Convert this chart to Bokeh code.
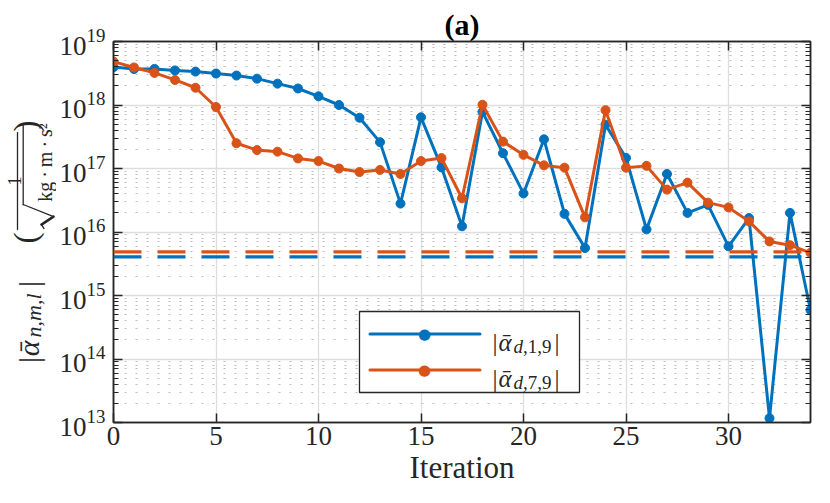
import math
from bokeh.plotting import figure
from bokeh.layouts import row
from bokeh.embed import file_html
from bokeh.resources import INLINE
from bokeh.models import (Label, Arrow, BoxAnnotation, Span, FixedTicker,
                          LinearAxis, LogAxis, Range1d)

# ---------------- data ----------------
iterations = list(range(35))
alpha_d_1_9 = [3.95e18, 3.69e18, 3.7e18, 3.5e18, 3.36e18, 3.13e18, 2.91e18, 2.6e18,
               2.17e18, 1.82e18, 1.37e18, 1.0e18, 6.3e17, 2.6e17, 2.8e16, 6.4e17,
               1.04e17, 1.23e16, 7.8e17, 1.74e17, 4.05e16, 2.88e17, 1.93e16, 5.6e15,
               4.9e17, 1.47e17, 1.1e16, 8.2e16, 2.0e16, 2.67e16, 5.95e15, 1.66e16,
               1.17e13, 2.0e16, 5.9e14]
alpha_d_7_9 = [4.83e18, 3.9e18, 3.2e18, 2.48e18, 1.87e18, 9.3e17, 2.5e17, 1.95e17,
               1.84e17, 1.44e17, 1.31e17, 1.0e17, 8.8e16, 9.5e16, 8.2e16, 1.31e17,
               1.46e17, 3.4e16, 1.01e18, 2.65e17, 1.64e17, 1.12e17, 1.03e17, 1.7e16,
               8.3e17, 1.03e17, 1.1e17, 4.65e16, 6.0e16, 2.9e16, 2.44e16, 1.47e16,
               7.1e15, 6.2e15, 4.7e15]
threshold_1_9 = 4.05e15
threshold_7_9 = 4.88e15
x_ticks = [0, 5, 10, 15, 20, 25, 30]
y_exponents = [13, 14, 15, 16, 17, 18, 19]

BLUE = "#0072BD"
ORANGE = "#D95319"
TXT = "#262626"
SERIF = "Liberation Serif"

H = 487
LW = 56            # width of the y-label strip
MW = 758           # width of the main figure
TOP, BOT = 41, 61  # frame borders shared by both figures

p = figure(width=MW, height=H, output_backend="svg",
           toolbar_location=None, y_axis_type="log",
           x_range=Range1d(0, 34), y_range=Range1d(1e13, 1e19),
           min_border_left=54, min_border_right=4, min_border_top=TOP,
           min_border_bottom=10)
p.background_fill_color = "white"
p.border_fill_color = "white"
p.outline_line_color = TXT
p.outline_line_width = 1.5

p.title.text = "(a)"
p.title.align = "center"
p.title.text_font = SERIF
p.title.text_font_size = "30px"
p.title.text_font_style = "bold"
p.title.text_color = "#000000"
p.title.standoff = 2

y_major = [10.0 ** e for e in y_exponents]
y_minor = [k * 10.0 ** e for e in y_exponents[:-1] for k in range(2, 10)]
xticker = FixedTicker(ticks=x_ticks, minor_ticks=[])
yticker = FixedTicker(ticks=y_major, minor_ticks=y_minor)

p.xaxis.ticker = xticker
p.yaxis.ticker = yticker

for ax in (p.xaxis[0], p.yaxis[0]):
    ax.axis_line_color = TXT
    ax.axis_line_width = 1.5
    ax.major_tick_line_color = TXT
    ax.major_tick_line_width = 1.5
    ax.minor_tick_line_color = TXT
    ax.minor_tick_line_width = 1.2
    ax.major_tick_in = 9
    ax.major_tick_out = 0
    ax.minor_tick_in = 5
    ax.minor_tick_out = 0
    ax.major_label_text_font = SERIF
    ax.major_label_text_font_size = "27px"
    ax.major_label_text_color = TXT
p.xaxis.major_label_standoff = 4
p.yaxis.major_label_standoff = 8
p.xaxis.axis_label = "Iteration"
p.xaxis.axis_label_text_font = SERIF
p.xaxis.axis_label_text_font_size = "31px"
p.xaxis.axis_label_text_font_style = "normal"
p.xaxis.axis_label_text_color = TXT
p.xaxis.axis_label_standoff = 2

top_axis = LinearAxis(ticker=xticker, major_label_text_font_size="1px",
                      major_label_text_color=None,
                      major_label_standoff=0, major_tick_in=9, major_tick_out=0,
                      minor_tick_in=0, minor_tick_out=0, axis_line_color=TXT,
                      axis_line_width=1.5, major_tick_line_color=TXT,
                      major_tick_line_width=1.5)
right_axis = LogAxis(ticker=yticker, major_label_text_font_size="1px",
                     major_label_text_color=None,
                     major_label_standoff=0, major_tick_in=9, major_tick_out=0,
                     minor_tick_in=5, minor_tick_out=0, axis_line_color=TXT,
                     axis_line_width=1.5, major_tick_line_color=TXT,
                     major_tick_line_width=1.5, minor_tick_line_color=TXT,
                     minor_tick_line_width=1.2)
p.add_layout(top_axis, "above")
p.add_layout(right_axis, "right")

p.xgrid.grid_line_color = "#dedede"
p.xgrid.grid_line_width = 1.3
p.ygrid.grid_line_color = "#dedede"
p.ygrid.grid_line_width = 1.3
p.ygrid.minor_grid_line_color = "#bdbdbd"
p.ygrid.minor_grid_line_width = 1.2
p.ygrid.minor_grid_line_dash = "2 9"

# threshold lines
p.add_layout(Span(location=threshold_1_9, dimension="width", line_color=BLUE,
                  line_width=3.2, line_dash="28 16"))
p.add_layout(Span(location=threshold_7_9, dimension="width", line_color=ORANGE,
                  line_width=3.2, line_dash="28 16"))

# series
p.line(iterations, alpha_d_1_9, line_color=BLUE, line_width=3)
p.scatter(iterations, alpha_d_1_9, marker="circle", size=9, fill_color=BLUE,
          line_color=BLUE)
p.line(iterations, alpha_d_7_9, line_color=ORANGE, line_width=3)
p.scatter(iterations, alpha_d_7_9, marker="circle", size=9, fill_color=ORANGE,
          line_color=ORANGE)


def lab(fig, text, x, y, size, units="screen", angle=0.0, style="normal",
        align="left", baseline="alphabetic", font=SERIF, color=TXT):
    fig.add_layout(Label(x=x, y=y, x_units=units, y_units=units, text=text,
                         angle=angle, text_font=font, text_font_size=f"{size}px",
                         text_font_style=style, text_align=align,
                         text_baseline=baseline, text_color=color))


def seg(fig, x0, y0, x1, y1, units="screen", color=TXT, width=1.3):
    fig.add_layout(Arrow(end=None, x_start=x0, y_start=y0, x_end=x1, y_end=y1,
                         start_units=units, end_units=units,
                         line_color=color, line_width=width, line_cap="round"))


# legend (inside the frame)
p.add_layout(BoxAnnotation(left=246, right=466, bottom=30, top=111,
                           left_units="screen", right_units="screen",
                           bottom_units="screen", top_units="screen",
                           fill_color="white", fill_alpha=1.0,
                           line_color=TXT, line_width=1.3, line_alpha=1.0))
for yy, col, sub in ((88.6, BLUE, ",1,9"), (52.6, ORANGE, ",7,9")):
    seg(p, 256.5, yy, 366.5, yy, color=col, width=3)
    lab(p, "\u25cf", 311, yy, 15, align="center", baseline="middle",
        font="DejaVu Sans", color=col)
    lab(p, "|", 379, yy - 8.3, 25)
    lab(p, "\u1fb1", 385, yy - 8.3, 25, style="italic")
    lab(p, "d", 400, yy - 12.8, 19, style="italic")
    lab(p, sub, 409.5, yy - 12.8, 19)
    lab(p, "|", 441, yy - 8.3, 25)

# ---------------- y-label strip ----------------
# its frame spans the same rows as the main frame; data units = pixels
# measured upward from the bottom edge of the page
q = figure(width=LW, height=H, output_backend="svg", toolbar_location=None,
           x_range=Range1d(0, LW), y_range=Range1d(H - 426, H - TOP),
           x_axis_location=None, y_axis_location=None,
           min_border_left=0, min_border_right=0, min_border_top=TOP,
           min_border_bottom=BOT)
q.outline_line_color = None
q.grid.visible = False
q.background_fill_color = "white"
q.border_fill_color = "white"

D = "data"
R = math.pi / 2
lab(q, "|", 27.5, 121, 30, units=D, angle=R)
lab(q, "\u1fb1", 27.5, 128, 30, units=D, angle=R, style="italic")
lab(q, "n,m,l", 33, 147, 22, units=D, angle=R, style="italic")
lab(q, "|", 27.5, 198, 30, units=D, angle=R)
lab(q, "(", 25.8, 242, 33, units=D, angle=R)
lab(q, "1", 14, 305, 18, units=D, angle=R, align="center")
seg(q, 17, 256, 17, 354, units=D)
# radical sign and its bar
seg(q, 22.7, 281.3, 53, 269, units=D)
seg(q, 53, 269, 41, 261, units=D, width=2.6)
seg(q, 41, 261, 43.5, 257, units=D)
seg(q, 22.7, 281, 22.7, 362, units=D)
lab(q, "kg\u2009\u00b7\u2009m\u2009\u00b7\u2009s\u00b2", 44, 284, 20, units=D, angle=R)
lab(q, ")", 25.8, 355, 33, units=D, angle=R)

layout = row(q, p)
open("out.html", "w").write(file_html(layout, INLINE))
